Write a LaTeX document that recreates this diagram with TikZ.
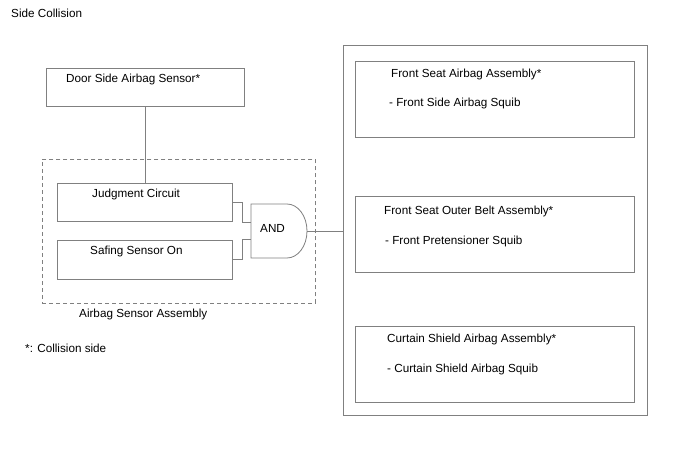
\documentclass[tikz,border=0pt]{standalone}
\usepackage{fontspec}
\setmainfont{Liberation Sans}
\begin{document}
\begin{tikzpicture}[x=1pt,y=-1pt,
  every node/.style={font=\fontsize{11.7}{14}\selectfont, text=black},
  box/.style={draw=black!50, line width=0.8pt, rectangle, inner sep=0pt, anchor=north west},
  lbl/.style={anchor=base west, inner sep=0pt},
  wire/.style={draw=black!50, line width=0.8pt},
  dbox/.style={draw=black!50, line width=0.8pt, dash pattern=on 4pt off 3pt}]
\useasboundingbox (0,0) rectangle (688,463);
\fill[white] (0,0) rectangle (688,463);

\node[lbl] (title) at (11,17.5) {Side Collision};

% door sensor
\node[box, minimum width=198pt, minimum height=38pt] (door) at (46,68) {};
\node[lbl] (doorl) at (66,82.5) {Door Side Airbag Sensor*};

% airbag sensor assembly
\node[dbox, rectangle, inner sep=0pt, anchor=north west, minimum width=273pt, minimum height=144pt] (asa) at (42,159) {};
\node[lbl] (asal) at (79,317.7) {Airbag Sensor Assembly};

\node[box, minimum width=175pt, minimum height=38pt] (judg) at (57,183) {};
\node[lbl] (judgl) at (92,197.5) {Judgment Circuit};
\node[box, minimum width=175pt, minimum height=39pt] (saf) at (57,240) {};
\node[lbl] (safl) at (90,254.4) {Safing Sensor On};

% AND gate
\draw[wire] (251,204) -- (287,204) arc[start angle=-90, end angle=90, x radius=20, y radius=27] -- (251,258) -- cycle;
\coordinate (gin1) at (251,222.5);
\coordinate (gin2) at (251,239.5);
\coordinate (gout) at (307,231);
\node[lbl] (andl) at (260,232) {AND};

% output box
\node[box, minimum width=304pt, minimum height=370pt] (out) at (343,45) {};
\node[box, minimum width=279pt, minimum height=76pt] (b1) at (355,61) {};
\node[lbl] (b1a) at (391,77.7) {Front Seat Airbag Assembly*};
\node[lbl] (b1b) at (389,106.7) {- Front Side Airbag Squib};
\node[box, minimum width=279pt, minimum height=76pt] (b2) at (355,196) {};
\node[lbl] (b2a) at (384,214) {Front Seat Outer Belt Assembly*};
\node[lbl] (b2b) at (385,244) {- Front Pretensioner Squib};
\node[box, minimum width=279pt, minimum height=76pt] (b3) at (355,326) {};
\node[lbl] (b3a) at (387,342.7) {Curtain Shield Airbag Assembly*};
\node[lbl] (b3b) at (387,372.4) {- Curtain Shield Airbag Squib};

\node[lbl] (note) at (25,352.5) {*: Collision side};

% connectors
\draw[wire] (door.south) -- (door.south |- judg.north);
\draw[wire] (judg.east |- 0,202.5) -- (242.5,202.5) -- (242.5,222.5) -- (gin1);
\draw[wire] (saf.east |- 0,259.5) -- (242.5,259.5) -- (242.5,239.5) -- (gin2);
\draw[wire] (gout) -- (gout -| out.west);
\end{tikzpicture}
\end{document}
